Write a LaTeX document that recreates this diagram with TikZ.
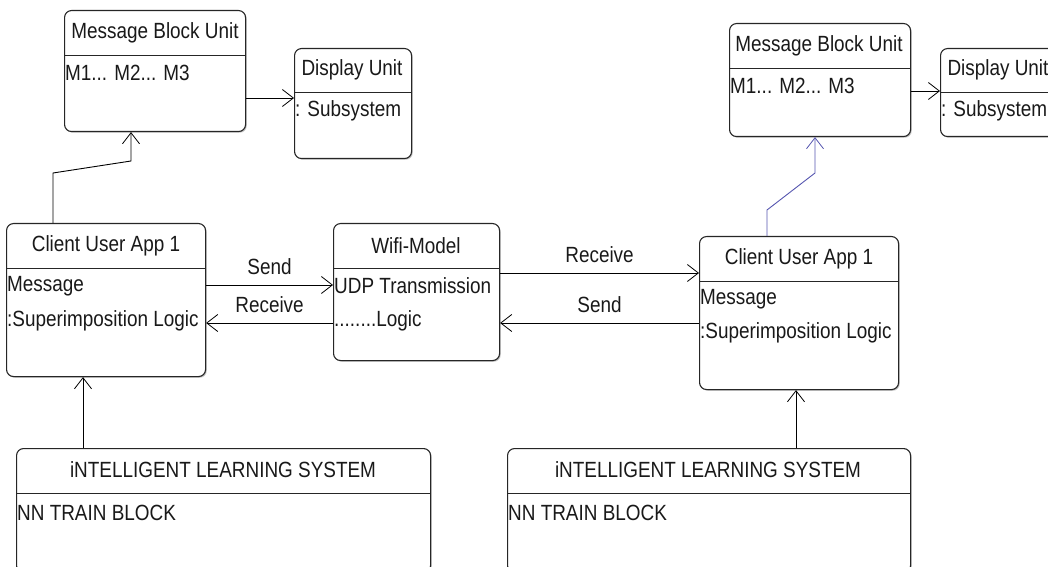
\documentclass[tikz,border=0pt]{standalone}
\usepackage{fontspec}
\setmainfont[FakeStretch=0.86]{Liberation Sans}
\usetikzlibrary{arrows.meta,shadows}
\definecolor{bluelink}{RGB}{85,85,175}
\begin{document}
\begin{tikzpicture}[x=1bp,y=-1bp,
  umlbox/.style={draw=black!85,line width=1.1bp,rounded corners=7bp,fill=white,anchor=north west,inner sep=0pt,
    drop shadow={shadow xshift=1.2bp,shadow yshift=-1.2bp,opacity=0.45}},
  divider/.style={draw=black!85,line width=1bp},
  txt/.style={font=\fontsize{22bp}{26bp}\selectfont,inner sep=0pt,text=black!90},
  ttl/.style={txt,anchor=center},
  bdy/.style={txt,anchor=west},
  lbl/.style={txt,anchor=center},
  arr/.style={draw=black,line width=0.9bp,-{Straight Barb[length=11bp,width=17bp,line width=0.8bp]}},
  bluearr/.style={arr,draw=bluelink,-{Straight Barb[length=11bp,width=17bp,line width=0.8bp,color=bluelink]}}
]
\useasboundingbox (0,0) rectangle (1048,567);
\clip (0,0) rectangle (1048,567);

% ---------- boxes ----------
\node[umlbox,minimum width=181bp,minimum height=121bp] (mbu1) at (64,10) {};
\node[umlbox,minimum width=117bp,minimum height=110bp] (du1) at (294,48) {};
\node[umlbox,minimum width=199bp,minimum height=153bp] (cua1) at (6,223) {};
\node[umlbox,minimum width=166bp,minimum height=137bp] (wifi) at (333,223) {};
\node[umlbox,minimum width=199bp,minimum height=153bp] (cua2) at (699,236) {};
\node[umlbox,minimum width=181bp,minimum height=113bp] (mbu2) at (729,23) {};
\node[umlbox,minimum width=117bp,minimum height=88bp] (du2) at (940,48) {};
\node[umlbox,minimum width=414bp,minimum height=124bp] (ils1) at (16,448) {};
\node[umlbox,minimum width=403bp,minimum height=124bp] (ils2) at (507,448) {};

% ---------- dividers ----------
\coordinate (d1) at (0,56);  \draw[divider] (mbu1.west |- d1) -- (mbu1.east |- d1);
\coordinate (d2) at (0,93);  \draw[divider] (du1.west |- d2) -- (du1.east |- d2);
\coordinate (d3) at (0,269); \draw[divider] (cua1.west |- d3) -- (cua1.east |- d3);
\draw[divider] (wifi.west |- d3) -- (wifi.east |- d3);
\coordinate (d4) at (0,281); \draw[divider] (cua2.west |- d4) -- (cua2.east |- d4);
\coordinate (d5) at (0,69);  \draw[divider] (mbu2.west |- d5) -- (mbu2.east |- d5);
\draw[divider] (du2.west |- d2) -- (du2.east |- d2);
\coordinate (d6) at (0,493); \draw[divider] (ils1.west |- d6) -- (ils1.east |- d6);
\draw[divider] (ils2.west |- d6) -- (ils2.east |- d6);

% ---------- texts ----------
\node[ttl] (t1) at (155,33) {Message Block Unit};
\node[bdy] (b1) at (65,73) {M1... M2... M3};
\node[ttl] (t2) at (352,70) {Display Unit};
\node[bdy] (b2) at (295,111) {: Subsystem};
\node[ttl] (t3) at (106,246) {Client User App 1};
\node[bdy] (b3a) at (7,286) {Message};
\node[bdy] (b3b) at (7,321) {:Superimposition Logic};
\node[ttl] (t4) at (416,246) {Wifi-Model};
\node[bdy] (b4a) at (334,286) {UDP Transmission};
\node[bdy] (b4b) at (334,321) {........Logic};
\node[ttl] (t5) at (799,259) {Client User App 1};
\node[bdy] (b5a) at (700,299) {Message};
\node[bdy] (b5b) at (700,333) {:Superimposition Logic};
\node[ttl] (t6) at (819,46) {Message Block Unit};
\node[bdy] (b6) at (730,86) {M1... M2... M3};
\node[ttl] (t7) at (998,70) {Display Unit};
\node[bdy] (b7) at (941,111) {: Subsystem};
\node[ttl] (t8) at (223,470) {iNTELLIGENT LEARNING SYSTEM};
\node[bdy] (b8) at (17,513) {NN TRAIN BLOCK};
\node[ttl] (t9) at (708,470) {iNTELLIGENT LEARNING SYSTEM};
\node[bdy] (b9) at (508,513) {NN TRAIN BLOCK};

% ---------- connectors ----------
\coordinate (c1a) at (53,173);
\coordinate (c1b) at (131,161);
\draw[arr] (cua1.north -| c1a) -- (c1a) -- (c1b) -- (c1b |- mbu1.south);

\coordinate (y98) at (0,98);
\draw[arr] (mbu1.east |- y98) -- (du1.west |- y98);

\coordinate (y91) at (0,91);
\draw[arr] (mbu2.east |- y91) -- (du2.west |- y91);

\coordinate (c2a) at (767,210);
\coordinate (c2b) at (815,173);
\draw[bluearr] (cua2.north -| c2a) -- (c2a) -- (c2b) -- (c2b |- mbu2.south);

\coordinate (y285) at (0,285);
\coordinate (y323) at (0,323);
\coordinate (y273) at (0,273);
\draw[arr] (cua1.east |- y285) -- node[lbl,above=10bp] (ls1) {Send} (wifi.west |- y285);
\draw[arr] (wifi.west |- y323) -- node[lbl,above=10bp] (lr1) {Receive} (cua1.east |- y323);
\draw[arr] (wifi.east |- y273) -- node[lbl,above=10bp] (lr2) {Receive} (cua2.west |- y273);
\draw[arr] (cua2.west |- y323) -- node[lbl,above=10bp] (ls2) {Send} (wifi.east |- y323);

\coordinate (x83) at (83,0);
\coordinate (x796) at (796,0);
\draw[arr] (ils1.north -| x83) -- (cua1.south -| x83);
\draw[arr] (ils2.north -| x796) -- (cua2.south -| x796);
\end{tikzpicture}
\end{document}
